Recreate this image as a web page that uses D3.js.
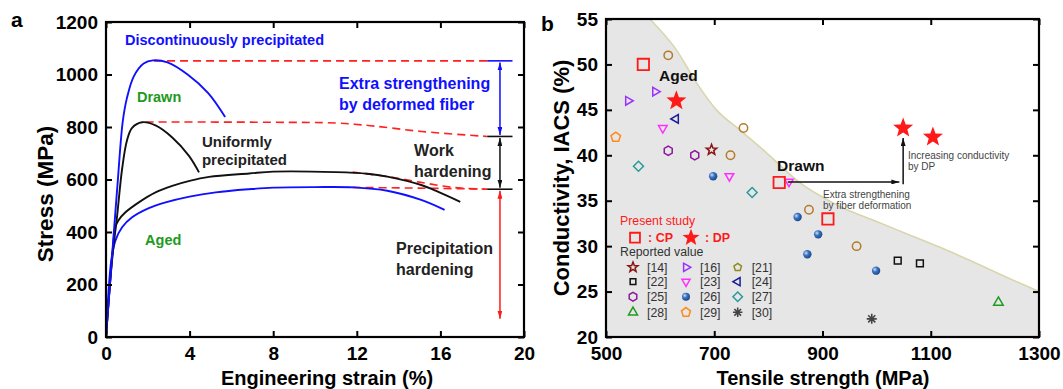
<!DOCTYPE html>
<html>
<head>
<meta charset="utf-8">
<script src="https://cdn.jsdelivr.net/npm/d3@7"></script>
<style>
  body { margin: 0; background: #fff; }
  svg { display: block; }
  text { font-family: "Liberation Sans", Arial, sans-serif; }
</style>
</head>
<body>
<svg id="chart" width="1063" height="389"></svg>
<script>
// ---------- panel a : stress-strain curves  [strain %, stress MPa]
const dpDrawn = [[0,0],[0.3,320],[0.55,580],[0.8,820],[1.0,910],[1.33,993],[1.8,1042],[2.25,1054],[2.94,1046],[3.92,999],[4.89,929],[5.7,838]];
const upDrawn = [[0,0],[0.3,300],[0.53,460],[0.77,640],[1.0,748],[1.25,797],[1.73,818],[2.37,806],[3.17,760],[3.97,690],[4.45,627]];
const upAged = [[0,0],[0.3,310],[0.45,420],[0.6,445],[0.93,475],[1.57,513],[2.37,551],[3.17,576],[4.0,595],[4.93,610],[6.85,623],[8,630],[11,628],[12.5,622],[13.46,611],[15.08,579],[15.9,553],[16.95,515]];
const dpAged = [[0,0],[0.25,290],[0.45,367],[0.77,418],[1.25,456],[2.05,491],[2.85,513],[4.0,535],[5.25,551],[6.85,563],[8,569],[10,571],[11.84,570],[13.46,557],[15.08,522],[16.2,484]];

// red dashed guide lines
const dashTop = [[2.3,1052],[18.24,1052]];
const dashMid = [[1.9,819],[8,818],[11,815],[12.65,805],[15.1,783],[18.24,764]];
const dashUp = [[11.8,628],[13.5,611],[15.0,590],[16.6,570],[18.24,563]];
const dashDp = [[11.8,570],[14,568],[16,566],[18.24,563]];
const levelStress = [1052, 764, 563];
const arrowBottom = 64;

// ---------- panel b : conductivity vs tensile strength  [MPa, %IACS]
const boundary = [[581,55],[630,51.6],[667,48],[704,45],[747,42.8],[796,40.3],[858,37.0],[894,35.6],[931,34.4],[992,32.9],[1054,31.4],[1116,29.9],[1177,28.3],[1239,26.6],[1300,25]];
const presentCP = [[569,50],[820,37],[910,33]];
const presentDP = [[630,46],[1049,43],[1104,42]];
const ref14 = [[695,40.6]];
const ref16 = [[541,46],[591,47]];
const ref21 = [[615,51],[754,43],[730,40],[875,34],[963,30]];
const ref22 = [[1039,28.4],[1080,28.1]];
const ref23 = [[605,43],[728,37.7],[838,37.1]];
const ref24 = [[629,44]];
const ref25 = [[615,40.5],[664,40]];
const ref26 = [[698,37.7],[854,33.2],[892,31.3],[872,29.1],[999,27.3]];
const ref27 = [[560,38.8],[770,35.9]];
const ref28 = [[1225,23.8]];
const ref29 = [[518,42]];
const ref30 = [[991,22]];

const svg = d3.select("#chart");
const FONT = '"Liberation Sans", Arial, sans-serif';

// ---------- shapes
function regPoly(n, r, rot) {
    const pts = d3.range(n).map(i => {
        const a = (rot * Math.PI / 180) + i * 2 * Math.PI / n;
        return [ (r * Math.sin(a)).toFixed(2), (-r * Math.cos(a)).toFixed(2) ];
    });
    return "M" + pts.join("L") + "Z";
}
function starPath(r) {
    const pts = d3.range(10).map(i => {
        const rr = i % 2 ? r * 0.42 : r;
        const a = i * Math.PI / 5;
        return [ (rr * Math.sin(a)).toFixed(2), (-rr * Math.cos(a)).toFixed(2) ];
    });
    return "M" + pts.join("L") + "Z";
}
function asteriskPath(r) {
    return d3.range(4).map(i => {
        const a = i * Math.PI / 4;
        const dx = r * Math.cos(a), dy = r * Math.sin(a);
        return `M${-dx},${-dy}L${dx},${dy}`;
    }).join("");
}
const shapes = {
    square: r => regPoly(4, r, 45),
    triUp: r => regPoly(3, r, 0),
    triRight: r => regPoly(3, r, 90),
    triDown: r => regPoly(3, r, 180),
    triLeft: r => regPoly(3, r, 270),
    diamond: r => regPoly(4, r, 0),
    pentagon: r => regPoly(5, r, 0),
    hexagon: r => regPoly(6, r, 0),
    circle: r => d3.symbol(d3.symbolCircle, Math.PI * r * r)(),
    star: r => starPath(r),
    asterisk: r => asteriskPath(r)
};

const refs = [
    { label: "[14]", data: ref14, shape: "star", color: "#8b1212", r: 5.5 },
    { label: "[16]", data: ref16, shape: "triRight", color: "#9b30ff", r: 5 },
    { label: "[21]", data: ref21, shape: "circle", color: "#b57a2a", r: 4.2, legShape: "pentagon", legColor: "#8f8a1e" },
    { label: "[22]", data: ref22, shape: "square", color: "#111", r: 4.8 },
    { label: "[23]", data: ref23, shape: "triDown", color: "#ff30ff", r: 5 },
    { label: "[24]", data: ref24, shape: "triLeft", color: "#1a1a9a", r: 5 },
    { label: "[25]", data: ref25, shape: "hexagon", color: "#8a1a9a", r: 4.6 },
    { label: "[26]", data: ref26, shape: "sphere", color: "#2a64b4", r: 4.2 },
    { label: "[27]", data: ref27, shape: "diamond", color: "#2a9a9a", r: 5 },
    { label: "[28]", data: ref28, shape: "triUp", color: "#1f9a1f", r: 5.5 },
    { label: "[29]", data: ref29, shape: "pentagon", color: "#ff8a1a", r: 5 },
    { label: "[30]", data: ref30, shape: "asterisk", color: "#444", r: 5 }
];

// ---------- defs
const defs = svg.append("defs");
function arrowHead(id, color) {
    defs.append("marker")
        .attr("id", id)
        .attr("viewBox", "0 0 10 6")
        .attr("refX", 10).attr("refY", 3)
        .attr("markerWidth", 8).attr("markerHeight", 5)
        .attr("markerUnits", "userSpaceOnUse")
        .attr("preserveAspectRatio", "none")
        .attr("orient", "auto-start-reverse")
        .append("path").attr("d", "M0,0L10,3L0,6Z").attr("fill", color);
}
arrowHead("ahBlue", "#1010ff");
arrowHead("ahBlack", "#111");
arrowHead("ahRed", "#ff1a1a");
const grad = defs.append("radialGradient").attr("id", "sphere")
    .attr("cx", "35%").attr("cy", "35%").attr("r", "65%");
grad.append("stop").attr("offset", "0%").attr("stop-color", "#cfe0f5");
grad.append("stop").attr("offset", "45%").attr("stop-color", "#3a74c4");
grad.append("stop").attr("offset", "100%").attr("stop-color", "#1d4a8e");

// ---------- axes helper
function drawFrame(g, x, y, xTicks, yTicks) {
    const [x0, x1] = x.range(), [y0, y1] = y.range();
    const fmt = d3.format("d");
    const styleTicks = sel => {
        sel.select(".domain").remove();
        sel.selectAll("line").attr("stroke", "#000").attr("stroke-width", 2);
        sel.selectAll("text")
            .attr("font-family", FONT).attr("font-size", 19)
            .attr("font-weight", "bold").attr("fill", "#000");
    };
    g.append("g").attr("transform", `translate(0,${y0})`)
        .call(d3.axisBottom(x).tickValues(xTicks).tickSize(-6).tickPadding(10).tickFormat(fmt))
        .call(styleTicks);
    g.append("g").attr("transform", `translate(0,${y1})`)
        .call(d3.axisTop(x).tickValues(xTicks).tickSize(-6).tickFormat(""))
        .call(styleTicks);
    g.append("g").attr("transform", `translate(${x0},0)`)
        .call(d3.axisLeft(y).tickValues(yTicks).tickSize(-6).tickPadding(8).tickFormat(fmt))
        .call(styleTicks);
    g.append("g").attr("transform", `translate(${x1},0)`)
        .call(d3.axisRight(y).tickValues(yTicks).tickSize(-6).tickFormat(""))
        .call(styleTicks);
    g.append("rect")
        .attr("x", x0).attr("y", y1).attr("width", x1 - x0).attr("height", y0 - y1)
        .attr("fill", "none").attr("stroke", "#000").attr("stroke-width", 2.2);
}

function addText(g, x, y, str, opts) {
    return g.append("text")
        .attr("x", x).attr("y", y).attr("dy", "0.35em")
        .attr("font-family", FONT)
        .attr("font-size", opts.size || 14)
        .attr("font-weight", opts.weight || "normal")
        .attr("fill", opts.color || "#000")
        .attr("text-anchor", opts.anchor || "start")
        .text(str);
}

// ================= panel a =================
const xA = d3.scaleLinear().domain([0, 20]).range([106, 524]);
const yA = d3.scaleLinear().domain([0, 1200]).range([337, 22]);
const gA = svg.append("g").attr("class", "panel-a");

const lineA = d3.line().x(d => xA(d[0])).y(d => yA(d[1])).curve(d3.curveCatmullRom.alpha(0.5));
const lineStraight = d3.line().x(d => xA(d[0])).y(d => yA(d[1]));

[dashTop, dashMid, dashUp, dashDp].forEach(pts => {
    gA.append("path").attr("d", lineA(pts))
        .attr("fill", "none").attr("stroke", "#ff2020")
        .attr("stroke-width", 1.6).attr("stroke-dasharray", "8,5");
});

const curvesA = [
    { data: upAged, color: "#111" },
    { data: dpAged, color: "#1010ff" },
    { data: upDrawn, color: "#111" },
    { data: dpDrawn, color: "#1010ff" }
];
curvesA.forEach(c => {
    gA.append("path").attr("d", lineA(c.data))
        .attr("fill", "none").attr("stroke", c.color).attr("stroke-width", 1.9);
});

// level markers on the right
const levelColors = ["#1010ff", "#111", "#111"];
levelStress.forEach((s, i) => {
    gA.append("path").attr("d", lineStraight([[18.24, s], [19.45, s]]))
        .attr("stroke", levelColors[i]).attr("stroke-width", 1.6);
});
const arrowsA = [
    { from: levelStress[0], to: levelStress[1], color: "#1010ff", head: "ahBlue" },
    { from: levelStress[1], to: levelStress[2], color: "#111", head: "ahBlack" },
    { from: levelStress[2], to: arrowBottom, color: "#ff1a1a", head: "ahRed" }
];
arrowsA.forEach(a => {
    gA.append("path").attr("d", lineStraight([[18.85, a.from - 6], [18.85, a.to + 6]]))
        .attr("stroke", a.color).attr("stroke-width", 1.5)
        .attr("marker-start", `url(#${a.head})`)
        .attr("marker-end", `url(#${a.head})`);
});

drawFrame(gA, xA, yA, [0, 4, 8, 12, 16, 20], d3.range(0, 1201, 200));

addText(gA, xA(0.91), yA(1131), "Discontinuously precipitated", { size: 14.5, weight: "bold", color: "#1010ff" });
addText(gA, xA(1.48), yA(914), "Drawn", { size: 14.5, weight: "bold", color: "#229922" });
addText(gA, xA(1.87), yA(370), "Aged", { size: 14.5, weight: "bold", color: "#229922" });
addText(gA, xA(4.59), yA(743), "Uniformly", { size: 15, weight: "bold", color: "#222" });
addText(gA, xA(4.59), yA(674), "precipitated", { size: 15, weight: "bold", color: "#222" });
addText(gA, xA(11.15), yA(968), "Extra strengthening", { size: 16, weight: "bold", color: "#1010ff" });
addText(gA, xA(11.15), yA(888), "by deformed fiber", { size: 16, weight: "bold", color: "#1010ff" });
addText(gA, xA(14.74), yA(709), "Work", { size: 16, weight: "bold", color: "#222" });
addText(gA, xA(14.74), yA(629), "hardening", { size: 16, weight: "bold", color: "#222" });
addText(gA, xA(13.88), yA(339), "Precipitation", { size: 16, weight: "bold", color: "#222" });
addText(gA, xA(13.88), yA(259), "hardening", { size: 16, weight: "bold", color: "#222" });

gA.append("text").attr("transform", "translate(53,194) rotate(-90)")
    .attr("text-anchor", "middle").attr("font-family", FONT)
    .attr("font-size", 22.5).attr("font-weight", "bold").text("Stress (MPa)");
gA.append("text").attr("x", 327).attr("y", 385)
    .attr("text-anchor", "middle").attr("font-family", FONT)
    .attr("font-size", 20).attr("font-weight", "bold").text("Engineering strain (%)");
gA.append("text").attr("x", 11).attr("y", 27)
    .attr("font-family", FONT).attr("font-size", 21).attr("font-weight", "bold").text("a");

// ================= panel b =================
const xB = d3.scaleLinear().domain([500, 1300]).range([606, 1039]);
const yB = d3.scaleLinear().domain([20, 55]).range([337, 19]);
const gB = svg.append("g").attr("class", "panel-b");

const lineB = d3.line().x(d => xB(d[0])).y(d => yB(d[1])).curve(d3.curveMonotoneX);
gB.append("path")
    .attr("d", lineB(boundary) + `L${xB(1300)},${yB(20)}L${xB(500)},${yB(20)}L${xB(500)},${yB(55)}Z`)
    .attr("fill", "#e6e6e6");
gB.append("path").attr("d", lineB(boundary))
    .attr("fill", "none").attr("stroke", "#d9d6ae").attr("stroke-width", 1.6);

function drawMarker(g, shape, color, r, x, y) {
    if (shape === "sphere") {
        g.append("circle").attr("cx", x).attr("cy", y).attr("r", r)
            .attr("fill", "url(#sphere)");
        return;
    }
    g.append("path").attr("d", shapes[shape](r))
        .attr("transform", `translate(${x},${y})`)
        .attr("fill", "none").attr("stroke", color)
        .attr("stroke-width", shape === "asterisk" ? 1.6 : 1.5);
}

refs.forEach(ref => {
    ref.data.forEach(d => drawMarker(gB, ref.shape, ref.color, ref.r, xB(d[0]), yB(d[1])));
});

// arrows in panel b
const lineBs = d3.line().x(d => xB(d[0])).y(d => yB(d[1]));
gB.append("path").attr("d", lineBs([[836, 37.06], [1042, 37.06]]))
    .attr("stroke", "#111").attr("stroke-width", 1.5).attr("marker-end", "url(#ahBlack)");
gB.append("path").attr("d", lineBs([[1049, 36.8], [1049, 41.9]]))
    .attr("stroke", "#111").attr("stroke-width", 1.5).attr("marker-end", "url(#ahBlack)");

presentCP.forEach(d => {
    gB.append("path").attr("d", shapes.square(8))
        .attr("transform", `translate(${xB(d[0])},${yB(d[1])})`)
        .attr("fill", "none").attr("stroke", "#ff1a1a").attr("stroke-width", 1.8);
});
presentDP.forEach(d => {
    gB.append("path").attr("d", starPath(10.5))
        .attr("transform", `translate(${xB(d[0])},${yB(d[1])})`)
        .attr("fill", "#ff1a1a");
});

drawFrame(gB, xB, yB, [500, 700, 900, 1100, 1300], d3.range(20, 56, 5));

addText(gB, xB(598), yB(48.8), "Aged", { size: 15.5, weight: "bold", color: "#111" });
addText(gB, xB(816), yB(38.9), "Drawn", { size: 15.5, weight: "bold", color: "#111" });
addText(gB, xB(1058), yB(40.0), "Increasing conductivity", { size: 10, color: "#444" });
addText(gB, xB(1058), yB(38.75), "by DP", { size: 10, color: "#444" });
addText(gB, xB(901), yB(35.7), "Extra strengthening", { size: 10, color: "#444" });
addText(gB, xB(901), yB(34.45), "by fiber deformation", { size: 10, color: "#444" });

// legend
const leg = gB.append("g").attr("transform", "translate(620,221)");
addText(leg, 0, 0, "Present study", { size: 12.3, color: "#ff1a1a" });
leg.append("path").attr("d", shapes.square(7)).attr("transform", "translate(15,16.7)")
    .attr("fill", "none").attr("stroke", "#ff1a1a").attr("stroke-width", 1.8);
addText(leg, 28, 16.7, ": CP", { size: 12.5, weight: "bold", color: "#ff1a1a" });
leg.append("path").attr("d", starPath(9)).attr("transform", "translate(71,16.7)").attr("fill", "#ff1a1a");
addText(leg, 85, 16.7, ": DP", { size: 12.5, weight: "bold", color: "#ff1a1a" });
addText(leg, 0, 31, "Reported value", { size: 12.3, color: "#333" });

const rowY = [46.3, 60.7, 75.7, 91.3];
const colX = [13, 66, 117.7];
refs.forEach((ref, i) => {
    const row = Math.floor(i / 3), col = i % 3;
    const shape = ref.legShape || ref.shape;
    const color = ref.legColor || ref.color;
    const r = shape === "square" ? 4 : ref.r * 0.95;
    drawMarker(leg, shape, color, r, colX[col], rowY[row]);
    addText(leg, colX[col] + 14, rowY[row], ref.label, { size: 12.3, color: "#333" });
});

gB.append("text").attr("transform", "translate(569,178) rotate(-90)")
    .attr("text-anchor", "middle").attr("font-family", FONT)
    .attr("font-size", 22).attr("font-weight", "bold").text("Conductivity, IACS (%)");
gB.append("text").attr("x", 823).attr("y", 385)
    .attr("text-anchor", "middle").attr("font-family", FONT)
    .attr("font-size", 20).attr("font-weight", "bold").text("Tensile strength (MPa)");
gB.append("text").attr("x", 541).attr("y", 31)
    .attr("font-family", FONT).attr("font-size", 21).attr("font-weight", "bold").text("b");
</script>
</body>
</html>
